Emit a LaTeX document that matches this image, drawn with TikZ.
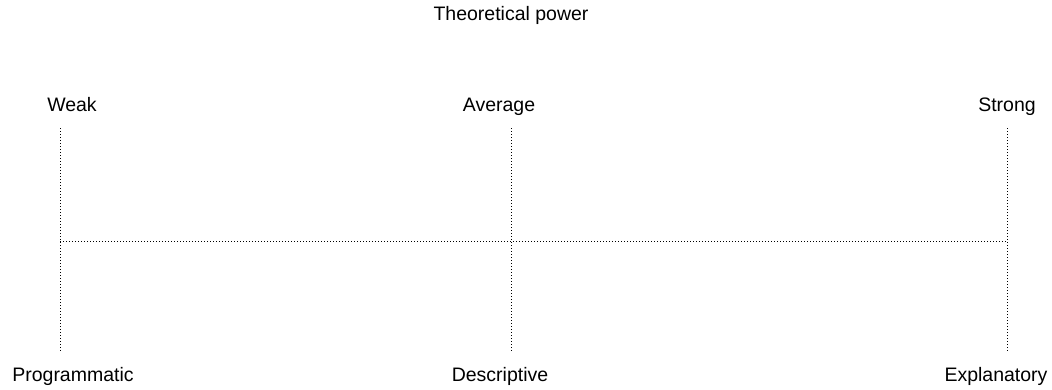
\documentclass[tikz,border=0pt]{standalone}
\usepackage{fontspec}
\setmainfont{Liberation Sans}
\usetikzlibrary{positioning}

\begin{document}
\begin{tikzpicture}[x=1pt, y=-1pt,
    lbl/.style={anchor=base, inner sep=0pt, font=\fontsize{19.5}{23}\selectfont},
    guide/.style={line width=1pt, dash pattern=on 1pt off 2pt}]
  \useasboundingbox (0,0) rectangle (1052,389);

  % Title
  \node[lbl] (title) at (511, 20) {Theoretical power};

  % Levels of power
  \node[lbl] (weak) at (72, 111) {Weak};
  \node[lbl] (average) at (499, 111) {Average};
  \node[lbl] (strong) at (1007, 111) {Strong};

  % Kinds of theory
  \node[lbl] (programmatic) at (73, 381) {Programmatic};
  \node[lbl] (descriptive) at (500, 381) {Descriptive};
  \node[lbl] (explanatory) at (996, 381) {Explanatory};

  % Scale ends
  \coordinate (weaktop) at (60, 128);
  \coordinate (weakbot) at (60, 352);
  \coordinate (avgtop) at (511, 128);
  \coordinate (avgbot) at (511, 352);
  \coordinate (strongtop) at (1007, 128);
  \coordinate (strongbot) at (1007, 352);
  \coordinate (axisleft) at (60, 241.5);
  \coordinate (axisright) at (1007, 241.5);

  % Scale
  \draw[guide] (weaktop) -- (weakbot);
  \draw[guide] (avgtop) -- (avgbot);
  \draw[guide] (strongtop) -- (strongbot);
  \draw[guide] (axisleft) -- (axisright);
\end{tikzpicture}
\end{document}
